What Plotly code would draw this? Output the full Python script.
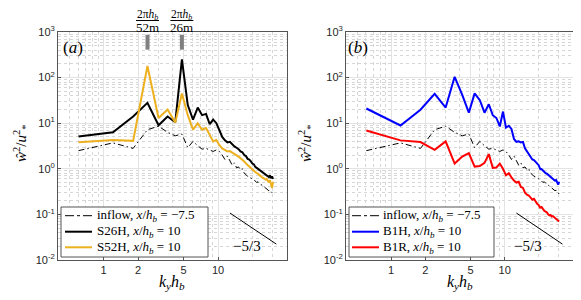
import numpy as np
import plotly.graph_objects as go

# ---------------- data ----------------
n_modes = np.arange(1, 51)
dk = 2 * np.pi / 10.4          # spanwise wavenumber spacing (k_y h_b)
k = dk * n_modes

inflow = [2.5, 3.7, 2.8, 7.2, 8.6, 6.3, 5.3, 5.8, 2.9, 4.0,
          3.2, 2.7, 2.8, 2.6, 2.4, 2.6, 2.4, 2.0, 1.6, 1.9,
          1.5, 1.2, 1.35, 1.05, 1.1, 0.95, 1.0, 0.8, 0.75, 0.68,
          0.66, 0.62, 0.6, 0.58, 0.55, 0.5, 0.52, 0.48, 0.45, 0.44,
          0.42, 0.4, 0.38, 0.37, 0.36, 0.33, 0.34, 0.31, 0.3, 0.28]

s26h = [5.1, 6.3, 14, 28, 9.0, 14, 10.5, 250, 25, 12,
        22, 15, 16, 9.5, 12, 10, 7.0, 5.0, 4.2, 3.8,
        3.9, 3.4, 3.1, 2.9, 2.7, 2.4, 2.3, 2.0, 1.9, 1.65,
        1.6, 1.45, 1.3, 1.25, 1.1, 1.05, 1.0, 0.95, 0.88, 0.85,
        0.8, 0.78, 0.74, 0.72, 0.7, 0.66, 0.72, 0.62, 0.68, 0.6]

s52h = [3.8, 4.3, 4.1, 180, 13, 20, 10.4, 45, 15, 7.2,
        10, 7.2, 7.8, 5.6, 4.0, 4.3, 3.3, 2.8, 2.6, 2.4,
        2.45, 2.3, 2.1, 2.0, 1.85, 1.7, 1.6, 1.45, 1.3, 1.2,
        1.12, 1.05, 0.98, 0.9, 0.85, 0.8, 0.78, 0.72, 0.68, 0.65,
        0.63, 0.6, 0.58, 0.6, 0.55, 0.5, 0.56, 0.42, 0.38, 0.52]

b1h = [21, 8.9, 19.7, 44, 22, 104, 42, 17, 45, 32,
       17, 26, 15, 13, 8.5, 18, 8.0, 8.8, 7.5, 4.5,
       3.9, 4.0, 3.8, 3.9, 2.8, 2.4, 2.1, 1.9, 1.6, 1.55,
       1.4, 1.3, 1.2, 1.0, 0.98, 0.92, 0.85, 0.8, 0.78, 0.74,
       0.7, 0.65, 0.62, 0.6, 0.58, 0.55, 0.57, 0.5, 0.45, 0.52]

b1r = [6.9, 4.2, 3.85, 2.6, 4.0, 1.3, 1.85, 2.2, 1.12, 1.15,
       1.35, 2.1, 1.05, 1.07, 1.3, 1.0, 0.72, 0.8, 0.65, 0.55,
       0.5, 0.52, 0.4, 0.38, 0.3, 0.27, 0.26, 0.23, 0.21, 0.22,
       0.19, 0.17, 0.16, 0.14, 0.145, 0.13, 0.12, 0.115, 0.11, 0.1,
       0.095, 0.097, 0.09, 0.092, 0.088, 0.085, 0.08, 0.078, 0.072, 0.07]

peak_k = [2.42, 4.83]            # 2*pi*h_b/52m, 2*pi*h_b/26m
peak_labels = ["52m", "26m"]
slope_k = [12.7, 32.3]
slope_y_a = [0.107, 0.0223]
slope_y_b = [0.107, 0.0223]
x_ticks = [1, 2, 5, 10]
y_ticks = [0.01, 0.1, 1, 10, 100, 1000]
y_ticktext = ["10<sup>-2</sup>", "10<sup>-1</sup>", "10<sup>0</sup>",
              "10<sup>1</sup>", "10<sup>2</sup>", "10<sup>3</sup>"]
legend_a = ["inflow, <i>x</i>/<i>h<sub>b</sub></i> = −7.5",
            "S26H, <i>x</i>/<i>h<sub>b</sub></i> = 10",
            "S52H, <i>x</i>/<i>h<sub>b</sub></i> = 10"]
legend_b = ["inflow, <i>x</i>/<i>h<sub>b</sub></i> = −7.5",
            "B1H, <i>x</i>/<i>h<sub>b</sub></i> = 10",
            "B1R, <i>x</i>/<i>h<sub>b</sub></i> = 10"]

# ---------------- style ----------------
SERIF = "Liberation Serif, DejaVu Serif, serif"
SANS = "Liberation Sans, Arial, sans-serif"
YELLOW = "#EDB120"
BLUE = "#0000FF"
RED = "#FF0000"
OFF = 8                      # default page body margin
W, H = 581 - 2 * OFF, 300 - 2 * OFF

def px_x(p):
    return (p - OFF) / W

def px_y(p):
    return 1 - (p - OFF) / H

fig = go.Figure()

dash_dot = "6px,3px,1.5px,3px"

def add_line(x, y, xa, ya, color, width, dash="solid"):
    fig.add_trace(go.Scatter(x=x, y=y, mode="lines", xaxis=xa, yaxis=ya,
                             line=dict(color=color, width=width, dash=dash),
                             showlegend=False, hoverinfo="skip"))

# left panel
add_line(k, inflow, "x", "y", "black", 1, dash_dot)
add_line(k, s26h, "x", "y", "black", 2)
add_line(k, s52h, "x", "y", YELLOW, 2)
add_line(slope_k, slope_y_a, "x", "y", "black", 1)
for pk in peak_k:
    add_line([pk, pk], [870, 410], "x", "y", "#808080", 4)

# right panel
add_line(k, inflow, "x2", "y2", "black", 1, dash_dot)
add_line(k, b1h, "x2", "y2", BLUE, 2)
add_line(k, b1r, "x2", "y2", RED, 2)
add_line(slope_k, slope_y_b, "x2", "y2", "black", 1)

xr = [np.log10(0.4), np.log10(40)]
yr = [-2, 3]
grid = "#e3e3e3"
minor_grid = "#d6d6d6"
axcol = "#555555"

def xaxis(domain, anchor):
    return dict(type="log", range=xr, domain=domain, anchor=anchor, automargin=False,
                tickvals=x_ticks, ticktext=[str(v) for v in x_ticks],
                showgrid=True, gridcolor=grid, gridwidth=1,
                minor=dict(dtick="D1", showgrid=True, gridcolor=minor_grid,
                           griddash="dot", gridwidth=1, ticks=""),
                showline=True, linecolor=axcol, linewidth=1, mirror=True,
                ticks="inside", ticklen=3, tickcolor=axcol,
                tickfont=dict(family=SANS, size=11, color="#262626"),
                zeroline=False)

def yaxis(anchor):
    return dict(type="log", range=yr, domain=[px_y(260), px_y(32)], anchor=anchor,
                automargin=False,
                tickvals=y_ticks, ticktext=y_ticktext,
                showgrid=True, gridcolor=grid, gridwidth=1,
                minor=dict(dtick="D1", showgrid=True, gridcolor=minor_grid,
                           griddash="dot", gridwidth=1, ticks=""),
                showline=True, linecolor=axcol, linewidth=1, mirror=True,
                ticks="inside", ticklen=3, tickcolor=axcol,
                tickfont=dict(family=SANS, size=11, color="#262626"),
                zeroline=False)

fig.update_layout(
    width=W, height=H,
    margin=dict(l=0, r=0, t=0, b=0, autoexpand=False),
    paper_bgcolor="white", plot_bgcolor="white",
    xaxis=xaxis([px_x(58), px_x(287)], "y"),
    yaxis=yaxis("x"),
    xaxis2=xaxis([px_x(346), min(1.0, px_x(574))], "y2"),
    yaxis2=yaxis("x2"),
    showlegend=False,
)

ann = []
shapes = []

def text_px(text, xp, yp, size, angle=0, xanchor="center"):
    ann.append(dict(text=text, x=px_x(xp), y=px_y(yp), xref="paper", yref="paper",
                    xanchor=xanchor, yanchor="middle", showarrow=False, textangle=angle,
                    font=dict(family=SERIF, size=size, color="black")))

# panel labels
text_px("(<i>a</i>)", 73, 47, 17)
text_px("(<i>b</i>)", 358, 47, 17)
# y-axis titles
ytitle = "<i>w&#770;</i><sup>2</sup>/<i>u</i><sup>2</sup><sub>*</sub>"
text_px(ytitle, 21, 144, 15, angle=-90)
text_px(ytitle, 306, 144, 15, angle=-90)
# x-axis titles
xtitle = "<i>k<sub>y</sub>h<sub>b</sub></i>"
text_px(xtitle, 172, 282, 16)
text_px(xtitle, 460, 282, 16)
# slope labels
ann.append(dict(text="−5/3", x=np.log10(17.8), y=np.log10(0.02), xref="x", yref="y",
                xanchor="center", yanchor="middle",
                showarrow=False, font=dict(family=SERIF, size=15, color="black")))
ann.append(dict(text="−5/3", x=np.log10(16.0), y=np.log10(0.02), xref="x2", yref="y2",
                xanchor="center", yanchor="middle",
                showarrow=False, font=dict(family=SERIF, size=15, color="black")))
# peak labels (fractions above the plot)
for pk, lab in zip(peak_k, peak_labels):
    ann.append(dict(text="2π<i>h<sub>b</sub></i>", x=np.log10(pk), y=px_y(14.5),
                    xref="x", yref="paper", showarrow=False,
                    xanchor="center", yanchor="middle",
                    font=dict(family=SERIF, size=11.5, color="black")))
    ann.append(dict(text=lab, x=np.log10(pk), y=px_y(27.5),
                    xref="x", yref="paper", showarrow=False,
                    xanchor="center", yanchor="middle",
                    font=dict(family=SERIF, size=13, color="black")))
    shapes.append(dict(type="line", xref="x", yref="paper",
                       x0=pk / 1.26, x1=pk * 1.26,
                       y0=px_y(20.5), y1=px_y(20.5),
                       line=dict(color="black", width=1)))

# manual legends
def legend_box(x0, x1, y0, y1, lx0, lx1, tx, labels, styles):
    shapes.append(dict(type="rect", xref="paper", yref="paper",
                       x0=px_x(x0), x1=px_x(x1), y0=px_y(y1), y1=px_y(y0),
                       fillcolor="white", line=dict(color="#555555", width=1),
                       layer="above"))
    rows = [215.7, 231.7, 247.3]
    for yy, lab, (col, wid, dsh) in zip(rows, labels, styles):
        shapes.append(dict(type="line", xref="paper", yref="paper",
                           x0=px_x(lx0), x1=px_x(lx1), y0=px_y(yy), y1=px_y(yy),
                           line=dict(color=col, width=wid, dash=dsh), layer="above"))
        text_px(lab, tx, yy, 13, xanchor="left")

legend_box(61, 208, 207, 257, 65, 92, 95, legend_a,
           [("black", 1, "dashdot"), ("black", 2, "solid"), (YELLOW, 2, "solid")])
legend_box(349, 494, 207, 257, 352, 379, 381, legend_b,
           [("black", 1, "dashdot"), (BLUE, 2, "solid"), (RED, 2, "solid")])

fig.update_layout(annotations=ann, shapes=shapes)

fig.write_html("out.html")
